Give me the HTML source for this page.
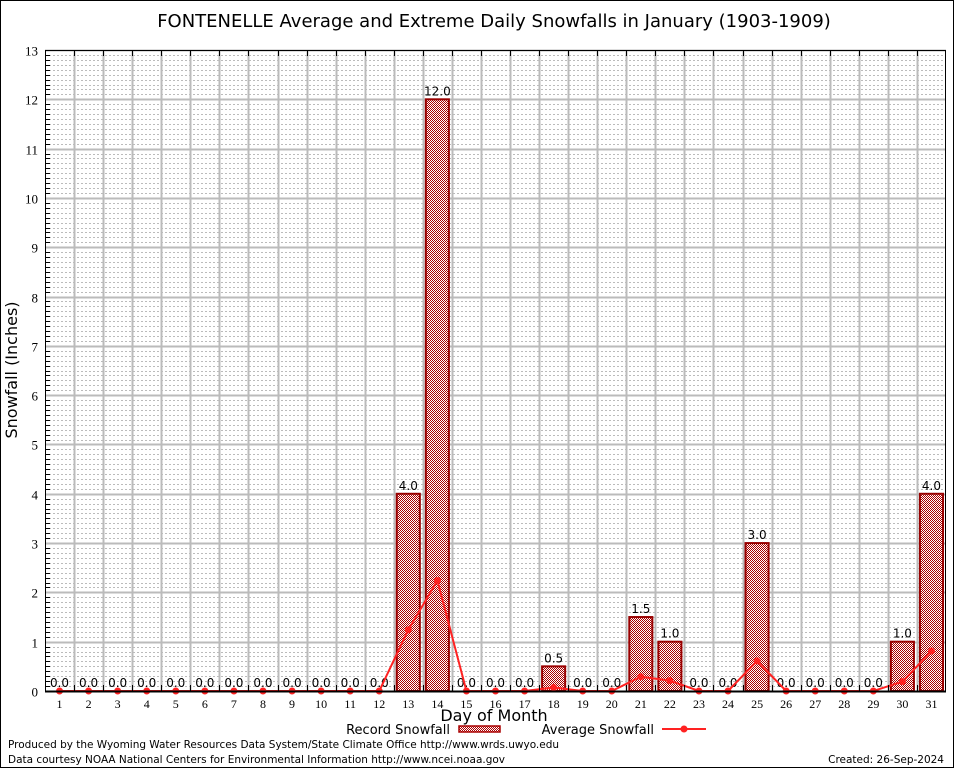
<!DOCTYPE html>
<html><head><meta charset="utf-8"><style>
html,body{margin:0;padding:0;background:#fff}
svg{display:block}
</style></head><body>
<svg id="chart" width="954" height="768" viewBox="0 0 954 768" xmlns="http://www.w3.org/2000/svg">
<defs>
<pattern id="hatch" width="2" height="2" patternUnits="userSpaceOnUse">
<rect width="2" height="2" fill="#fff"/>
<rect x="0" y="0" width="1" height="1" fill="#a00"/>
<rect x="1" y="1" width="1" height="1" fill="#a00"/>
</pattern>
</defs>
<rect x="0.5" y="0.5" width="953" height="767" fill="#fff" stroke="#000"/>
<text x="494" y="27" text-anchor="middle" font-family="DejaVu Sans, sans-serif" font-size="18">FONTENELLE Average and Extreme Daily Snowfalls in January (1903-1909)</text>
<g id="grid"></g>
<g id="bars"></g>
<g id="line"></g>
<g id="axes"></g>
<text transform="translate(17,370) rotate(-90)" text-anchor="middle" font-family="DejaVu Sans, sans-serif" font-size="16">Snowfall (Inches)</text>
<text x="494" y="721" text-anchor="middle" font-family="DejaVu Sans, sans-serif" font-size="16">Day of Month</text>
<g>
<text x="450" y="734" text-anchor="end" font-family="DejaVu Sans, sans-serif" font-size="13">Record Snowfall</text>
<rect x="459" y="726" width="41" height="6" fill="url(#hatch)" stroke="#a00" stroke-width="1.5"/>
</g>
<g>
<text x="654" y="734" text-anchor="end" font-family="DejaVu Sans, sans-serif" font-size="13">Average Snowfall</text>
<line x1="662" y1="729" x2="706" y2="729" stroke="#f22" stroke-width="2"/>
<circle cx="684" cy="729" r="3.5" fill="#f22"/>
</g>
<text x="8" y="748" font-family="DejaVu Sans, sans-serif" font-size="10.5" textLength="551">Produced by the Wyoming Water Resources Data System/State Climate Office http://www.wrds.uwyo.edu</text>
<text x="8" y="763" font-family="DejaVu Sans, sans-serif" font-size="10.5" textLength="497">Data courtesy NOAA National Centers for Environmental Information http://www.ncei.noaa.gov</text>
<text x="944" y="763" text-anchor="end" font-family="DejaVu Sans, sans-serif" font-size="10.5">Created: 26-Sep-2024</text>
</svg>
<script>
const days = [1,2,3,4,5,6,7,8,9,10,11,12,13,14,15,16,17,18,19,20,21,22,23,24,25,26,27,28,29,30,31];
const recordSnow = [0,0,0,0,0,0,0,0,0,0,0,0,4.0,12.0,0,0,0,0.5,0,0,1.5,1.0,0,0,3.0,0,0,0,0,1.0,4.0];
const avgSnow = [0,0,0,0,0,0,0,0,0,0,0,0,1.24,2.24,0,0,0,0.07,0,0,0.29,0.21,0,0,0.61,0,0,0,0,0.19,0.81];
const yTicks = [0,1,2,3,4,5,6,7,8,9,10,11,12,13];

const NS = 'http://www.w3.org/2000/svg';
const L = 45, R = 946, T = 50, B = 691, YMAX = 13;
const bw = (R - L) / days.length;
const xC = d => L + (d - 0.5) * bw;
const yS = v => B - v / YMAX * (B - T);
function mk(tag, attrs, parent) {
  const e = document.createElementNS(NS, tag);
  for (const k in attrs) e.setAttribute(k, attrs[k]);
  parent.appendChild(e);
  return e;
}
const grid = document.getElementById('grid');
const bars = document.getElementById('bars');
const line = document.getElementById('line');
const axes = document.getElementById('axes');
for (let v = 0.1; v < YMAX; v += 0.1) {
  if (Math.abs(v - Math.round(v)) < 0.01) continue;
  const y = Math.round(yS(v)) + 0.5;
  const g = mk('line', {x1: L, x2: R, y1: y, y2: y, stroke: '#bbb', 'stroke-width': 1, 'stroke-dasharray': '2,2'}, grid);
  
  
}
yTicks.forEach(v => {
  const y = Math.round(yS(v)) + 0.5;
  const g = mk('line', {x1: L, x2: R, y1: y, y2: y, stroke: '#bbb', 'stroke-width': 2}, grid);
  
  
  const t = mk('text', {x: 38, y: y + 5, 'text-anchor': 'end', 'font-family': 'Liberation Serif, serif', 'font-size': 13}, axes);
  t.textContent = v;
  
  
  for (let m = 1; m < 10 && v < YMAX; m++) {
    const ym = Math.round(yS(v + m / 10)) + 0.5;
    mk('line', {x1: L, x2: L + 5, y1: ym, y2: ym, stroke: '#000'}, axes);
  }
});
for (let i = 1; i < days.length; i++) {
  const x = Math.round(L + i * bw) + 0.5;
  const g = mk('line', {x1: x, x2: x, y1: T, y2: B, stroke: '#bbb', 'stroke-width': 2}, grid);
  
  
  mk('line', {x1: x, x2: x, y1: T, y2: T + 6, stroke: '#000'}, axes);
  mk('line', {x1: x, x2: x, y1: B - 6, y2: B, stroke: '#000'}, axes);
}
days.forEach((d, i) => {
  const v = recordSnow[i];
  const x0 = L + i * bw + 3, w = bw - 6;
  if (v > 0) {
    const r = mk('rect', {x: x0, y: yS(v), width: w, height: B - yS(v), fill: 'url(#hatch)', stroke: '#900', 'stroke-width': 2}, bars);
    
    
  }
  const t = mk('text', {x: xC(d), y: yS(v) - 4, 'text-anchor': 'middle', 'font-family': 'DejaVu Sans, sans-serif', 'font-size': 12}, bars);
  t.textContent = v.toFixed(1);
  
  
  const xl = mk('text', {x: xC(d), y: B + 17, 'text-anchor': 'middle', 'font-family': 'Liberation Serif, serif', 'font-size': 12}, axes);
  xl.textContent = d;
  
  
});
const pts = days.map((d, i) => xC(d) + ',' + yS(avgSnow[i])).join(' ');
const pl = mk('polyline', {points: pts, fill: 'none', stroke: '#f22', 'stroke-width': 2}, line);


days.forEach((d, i) => {
  const c = mk('circle', {cx: xC(d), cy: yS(avgSnow[i]), r: 3.5, fill: '#f22'}, line);
  
  
});
const fr = mk('rect', {x: L + 0.5, y: T + 0.5, width: R - L - 1, height: B - T, fill: 'none', stroke: '#000', 'stroke-width': 1}, axes);


mk('line', {x1: L, x2: R, y1: B + 0.5, y2: B + 0.5, stroke: '#000', 'stroke-width': 2}, axes);
</script>
</body></html>
